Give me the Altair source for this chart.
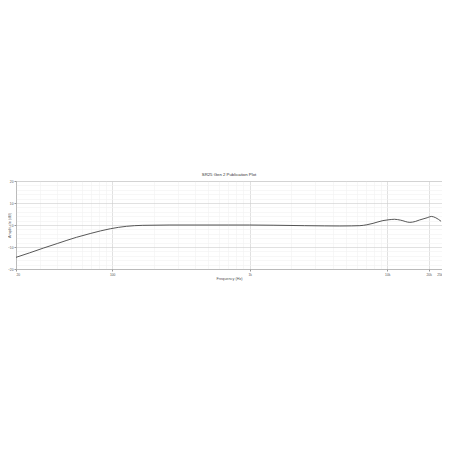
import altair as alt
import pandas as pd

# Frequency response
freq_hz = [20, 25, 31.6, 40, 55, 70, 97, 127, 167, 263, 400, 700, 1000, 1500, 2500,
           3500, 4520, 5500, 6320, 7100, 7880, 9300, 10300, 11300, 12500, 14600,
           16000, 17200, 19500, 20900, 22500, 24600]
amp_db = [-14.7, -12.7, -10.5, -8.4, -5.6, -3.8, -1.7, -0.6, -0.15, 0.0, 0.0, 0.0,
          0.0, -0.1, -0.3, -0.4, -0.45, -0.4, -0.3, 0.1, 0.75, 2.0, 2.4, 2.6, 2.2,
          1.2, 1.6, 2.3, 3.3, 3.9, 3.3, 1.7]

x_major = [20, 100, 1000, 10000, 20000, 25000]
x_major_labels = ["20", "100", "1k", "10k", "20k", "25k"]
x_minor = [30, 40, 50, 60, 70, 80, 90, 200, 300, 400, 500, 600, 700, 800, 900,
           2000, 3000, 4000, 5000, 6000, 7000, 8000, 9000]
y_major = [-20, -10, 0, 10, 20]
y_minor = [-18, -16, -14, -12, -8, -6, -4, -2, 2, 4, 6, 8, 12, 14, 16, 18]

df = pd.DataFrame({"f": freq_hz, "a": amp_db})

label_map = "{" + ",".join(f"'{v}':'{t}'" for v, t in zip(x_major, x_major_labels)) + "}"
x_major_test = " || ".join(f"datum.value == {v}" for v in x_major)
y_major_test = " || ".join(f"datum.value == {v}" for v in y_major)

x_axis = alt.Axis(
    values=sorted(x_major + x_minor),
    labelExpr=f"({label_map})[''+datum.value] || ''",
    title="Frequency (Hz)",
    titleFontSize=3.8, titleFontWeight="normal", titleColor="#555", titlePadding=1,
    labelFontSize=3.3, labelColor="#555", labelPadding=1,
    labelFlush=True,
    tickSize=2, tickColor={"condition": {"test": x_major_test, "value": "#999"}, "value": "transparent"},
    gridColor={"condition": {"test": x_major_test, "value": "#cccccc"}, "value": "#f2f2f2"},
    gridWidth=0.6, domainColor="#aaa", domainWidth=0.6,
)
y_axis = alt.Axis(
    values=sorted(y_major + y_minor),
    labelExpr=f"({y_major_test}) ? datum.label : ''",
    title="Amplitude (dB)",
    titleFontSize=3.8, titleFontWeight="normal", titleColor="#555",
    titleX=-7, titleY=44, titleAngle=-90, titleAlign="center", titleBaseline="middle",
    labelFontSize=3.3, labelColor="#555", labelPadding=1,
    tickSize=2, tickColor={"condition": {"test": y_major_test, "value": "#999"}, "value": "transparent"},
    gridColor={"condition": {"test": y_major_test, "value": "#cccccc"}, "value": "#f2f2f2"},
    gridWidth=0.6, domainColor="#aaa", domainWidth=0.6,
)

chart = alt.Chart(df).mark_line(color="#444", strokeWidth=0.9, interpolate="monotone").encode(
    x=alt.X("f:Q", scale=alt.Scale(type="log", domain=[20, 25000], nice=False), axis=x_axis),
    y=alt.Y("a:Q", scale=alt.Scale(domain=[-20, 20], nice=False), axis=y_axis),
).properties(
    width=426, height=88,
    title=alt.TitleParams("SR25 Gen 2 Publication Plot", fontSize=4.3, fontWeight="normal",
                          color="#333", offset=2),
    autosize=alt.AutoSizeParams(type="none"),
    padding={"left": 8, "top": 173, "right": 0, "bottom": 20},
).configure_view(stroke="#aaa", strokeWidth=0.6).configure(background="white")

chart.save("out.html", embed_options={"renderer": "svg", "actions": False})
